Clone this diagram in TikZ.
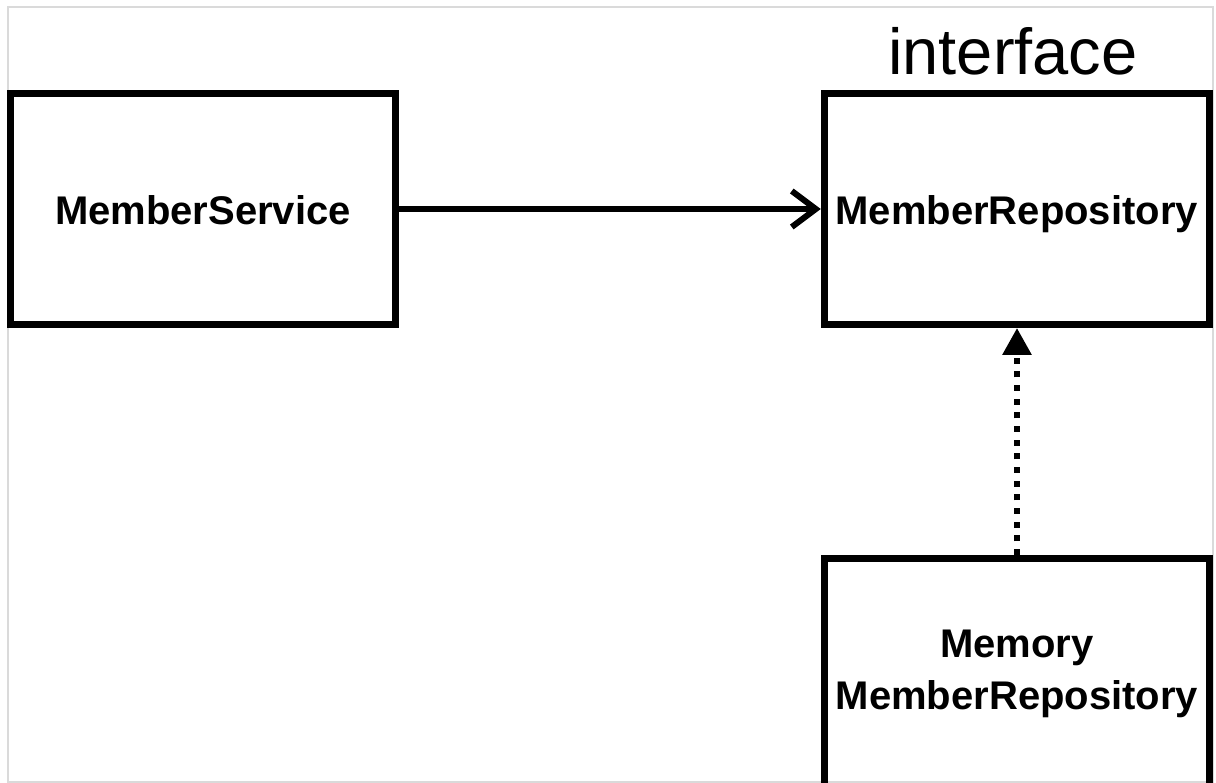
\documentclass[tikz,border=0pt]{standalone}
\usepackage{fontspec}
\setmainfont{Liberation Sans}
\usetikzlibrary{arrows.meta}
\definecolor{framegray}{RGB}{218,218,218}
\begin{document}
\begin{tikzpicture}[x=1pt,y=-1pt,
  boxnode/.style={draw=black,line width=7pt,minimum width=385pt,minimum height=231pt,
    inner sep=0pt,font=\fontsize{40}{52}\selectfont\bfseries,align=center},
  onelabel/.style={text height=36pt,text depth=4pt},
  assoc/.style={line width=6pt,-{Straight Barb[length=24pt,width=36pt,line width=6pt]}},
  realize/.style={line width=6pt,dash pattern=on 6pt off 7.67pt,-{Triangle[length=27pt,width=28pt]}}]
\useasboundingbox (0,0) rectangle (1216,783);
\draw[framegray,line width=2pt] (7.5,7.5) rectangle (1212.5,782);
\node[boxnode,onelabel] (svc) at (203,209) {MemberService};
\node[boxnode,onelabel] (repo) at (1016.75,209) {MemberRepository};
\node[boxnode] (mem) at (1017,674) {Memory\\MemberRepository};
\node[anchor=base,font=\fontsize{65}{78}\selectfont,inner sep=0pt] (iface) at (1013,75) {interface};
\draw[assoc] (svc.east) -- (repo.west);
\draw[realize] (mem.north) -- (mem.north |- repo.south);
\end{tikzpicture}
\end{document}
